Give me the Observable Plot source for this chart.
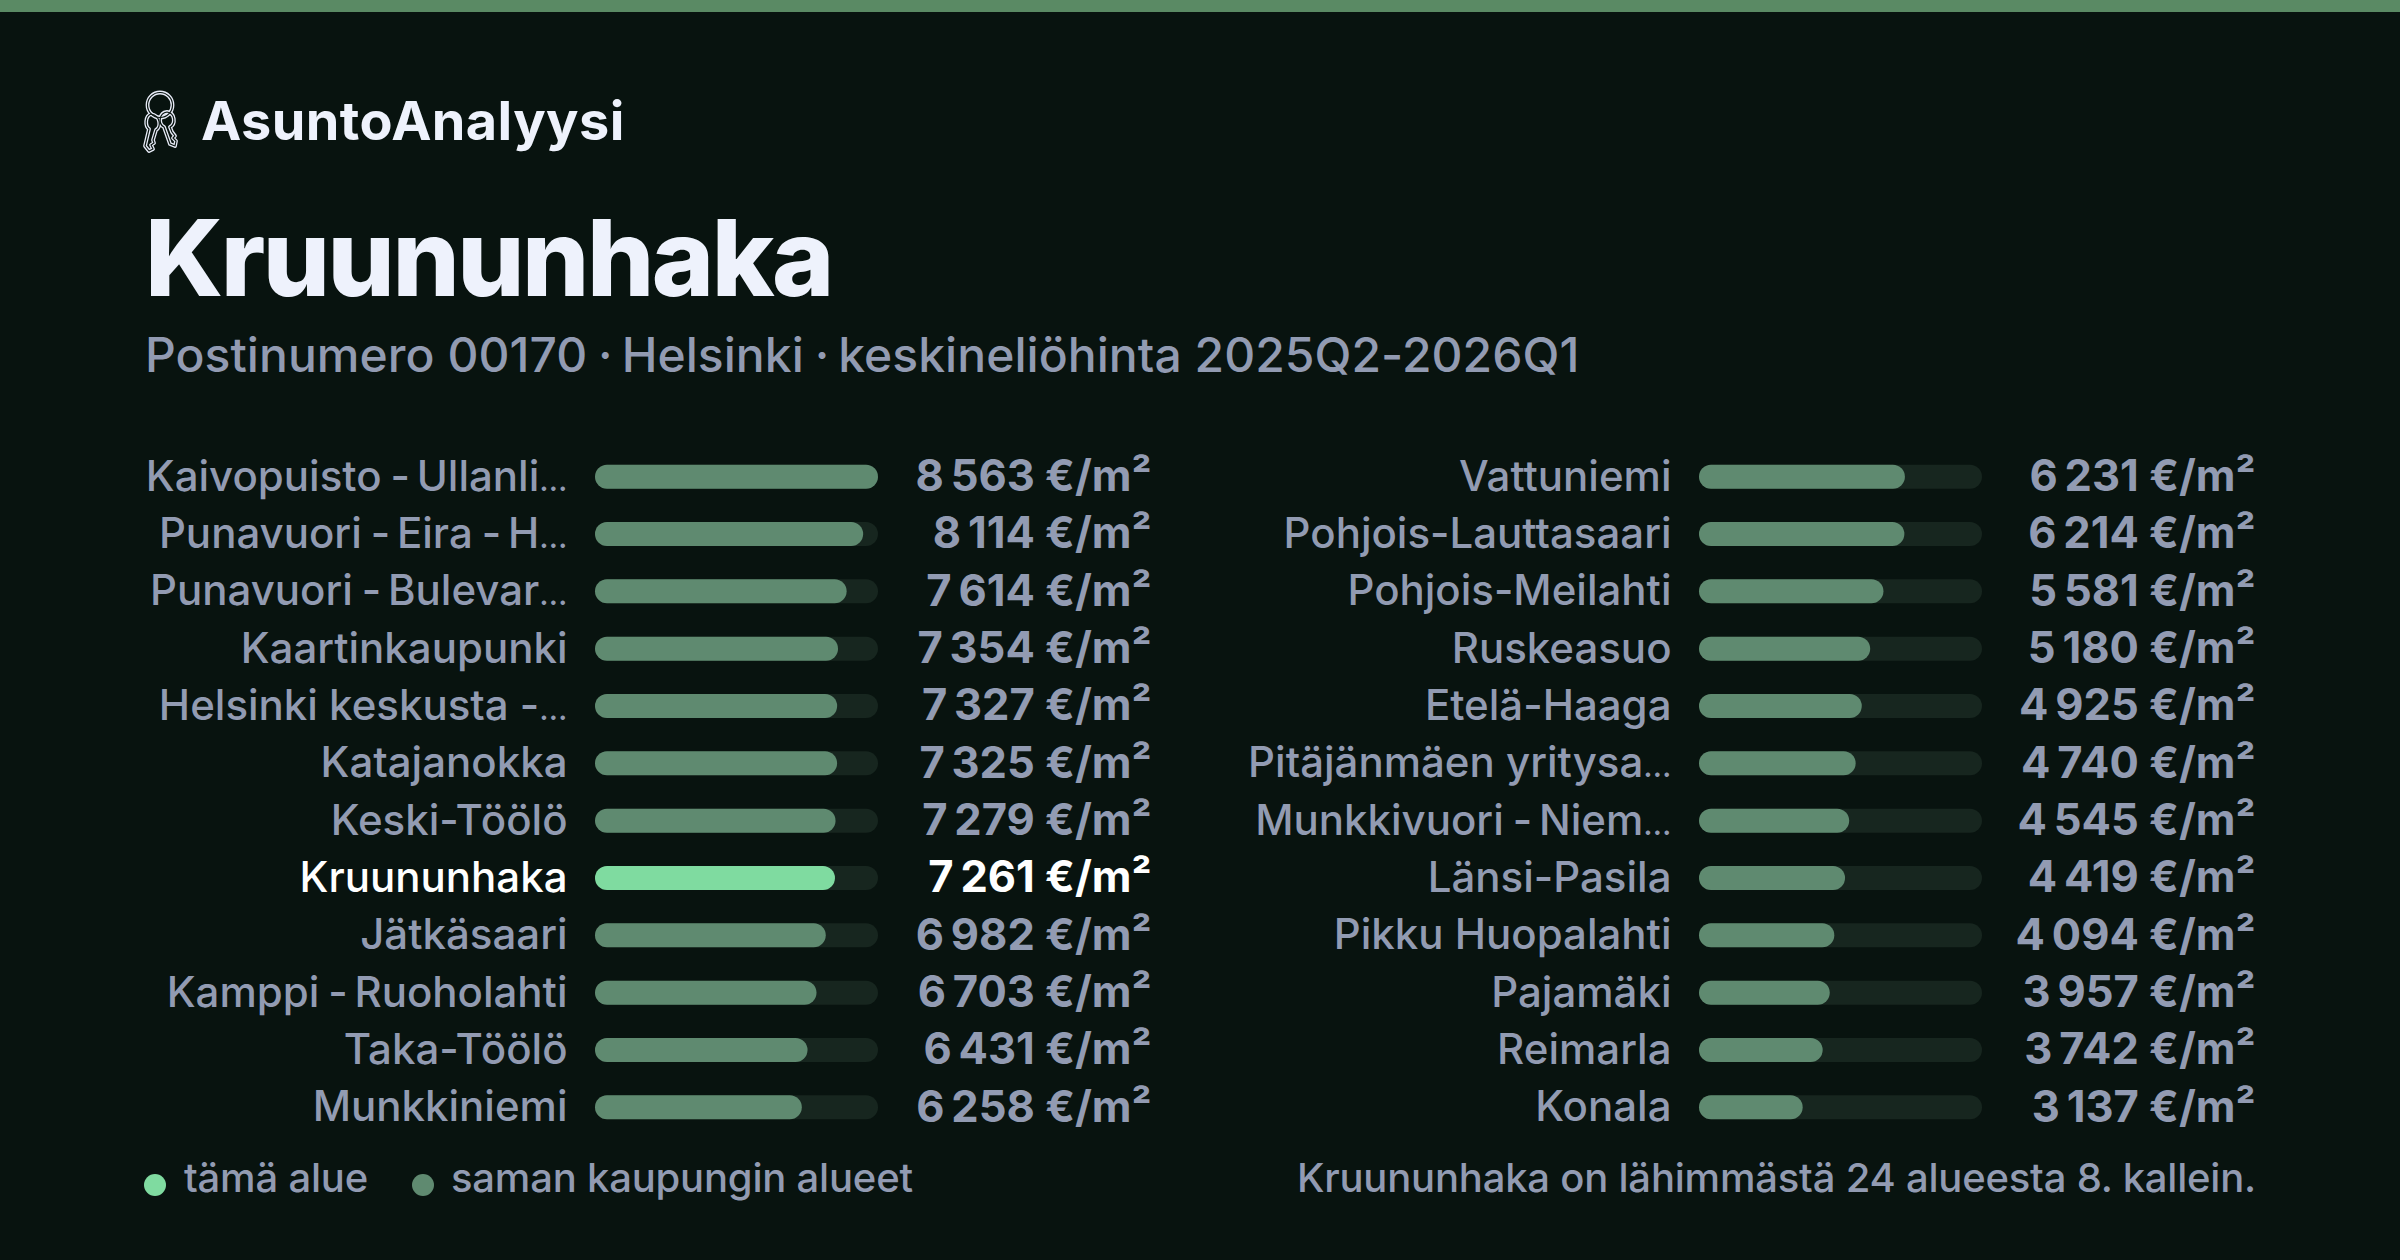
<!DOCTYPE html>
<html lang="fi">
<head>
<meta charset="utf-8">
<script src="https://cdn.jsdelivr.net/npm/d3@7"></script>
<script src="https://cdn.jsdelivr.net/npm/@observablehq/plot@0.6"></script>
<style>
  html, body { margin: 0; padding: 0; background: #08130f; }
  body { width: 2400px; height: 1260px; position: relative; overflow: hidden; font-family: Inter, sans-serif; }
  .abs { position: absolute; white-space: nowrap; line-height: 1; }
  #bar { position: absolute; left: 0; top: 0; width: 2400px; height: 12px; background: #5a8a64; }
  #brand { left: 201px; top: 94px; font-size: 54px; font-weight: 700; color: #eef2fc; letter-spacing: 0.4px; }
  #title { left: 145px; top: 205px; font-size: 106px; font-weight: 800; color: #eef2fc; letter-spacing: -2.5px; }
  #sub { left: 145px; top: 331px; font-size: 48px; font-weight: 450; color: #929bb2; letter-spacing: 0.05px; }
  #sub span { letter-spacing: -1.9px; }
  .legend { font-size: 40px; font-weight: 450; color: #929bb2; top: 1158px; letter-spacing: -0.2px; }
  .dot { position: absolute; width: 22px; height: 22px; border-radius: 50%; top: 1174px; }
  #note { right: 144px; font-size: 40px; font-weight: 450; color: #929bb2; top: 1158px; letter-spacing: -0.21px; }
  .col { position: absolute; top: 448px; }
  .col svg { overflow: visible; background: transparent !important; }
</style>
</head>
<body>
<div id="bar"></div>
<svg class="abs" style="left:120px;top:70px" width="120" height="100" viewBox="0 0 120 100" fill="none" stroke-linecap="round" stroke-linejoin="round">
  <defs>
    <g id="keys">
      <circle cx="40" cy="35" r="12.5"/>
      <path d="M31 44 C25 46 25 56 29 59 L25 76 L29 81 L33 79 L31 75 L34 73 L33 70 L36 60 C41 57 41 46 31 44 Z"/>
      <path d="M47 42 C39 43 38 54 44 57 L50 74 L55 76 L56 71 L53 68 L55 66 L52 62 L50 57 C56 54 55 43 47 42 Z"/>
    </g>
  </defs>
  <use href="#keys" stroke="#e8ecf8" stroke-width="3.8"/>
  <use href="#keys" stroke="#08130f" stroke-width="1.2"/>
</svg>
<div id="brand" class="abs">AsuntoAnalyysi</div>
<div id="title" class="abs">Kruununhaka</div>
<div id="sub" class="abs">Postinumero 00170<span> · </span>Helsinki<span> · </span>keskineliöhinta 2025Q2-2026Q1</div>
<div id="left" class="col" style="left:0"></div>
<div id="right" class="col" style="left:1104px"></div>
<span class="dot" style="left:144px;background:#7fdba0"></span>
<div class="abs legend" style="left:184px">tämä alue</div>
<span class="dot" style="left:412px;background:#5f8a70"></span>
<div class="abs legend" style="left:451px">saman kaupungin alueet</div>
<div id="note" class="abs">Kruununhaka on lähimmästä 24 alueesta 8. kallein.</div>
<script>
const leftNames = ["Kaivopuisto - Ullanli…","Punavuori - Eira - H…","Punavuori - Bulevar…","Kaartinkaupunki","Helsinki keskusta -…","Katajanokka","Keski-Töölö","Kruununhaka","Jätkäsaari","Kamppi - Ruoholahti","Taka-Töölö","Munkkiniemi"];
const leftValues = [8563,8114,7614,7354,7327,7325,7279,7261,6982,6703,6431,6258];
const rightNames = ["Vattuniemi","Pohjois-Lauttasaari","Pohjois-Meilahti","Ruskeasuo","Etelä-Haaga","Pitäjänmäen yritysa…","Munkkivuori - Niem…","Länsi-Pasila","Pikku Huopalahti","Pajamäki","Reimarla","Konala"];
const rightValues = [6231,6214,5581,5180,4925,4740,4545,4419,4094,3957,3742,3137];
const current = "Kruununhaka";
const maxValue = 8563;

const fmt = v => d3.format(",")(v).replace(",", "\u2009") + " €/m²";
const fontFamily = "Inter, sans-serif";

// The reference face has a tighter " - " and a narrower ellipsis than Inter: tune those runs only.
function tuneLabel(node) {
  const parts = node.textContent.split(/( - |…)/).filter(s => s !== "");
  if (parts.length < 2) return;
  node.textContent = "";
  for (const p of parts) {
    if (p === " - " || p === "…") {
      const t = document.createElementNS("http://www.w3.org/2000/svg", "tspan");
      t.textContent = p;
      if (p === "…") t.setAttribute("font-size", "31");
      else t.setAttribute("letter-spacing", "-2.2");
      node.append(t);
    } else node.append(p);
  }
}

function column(names, values) {
  const rows = names.map((name, i) => ({name, value: values[i]}));
  const isCur = d => d.name === current;
  const svg = Plot.plot({
    width: 1200, height: 688,
    margin: 0,
    style: {background: "transparent", fontFamily},
    x: {domain: [0, maxValue], range: [595, 878], axis: null},
    y: {domain: names, padding: 0, round: false, axis: null},
    marks: [
      Plot.barX(rows, {x: () => maxValue, y: "name", fill: "#17261f", rx: 12, insetTop: 16.67, insetBottom: 16.67}),
      Plot.barX(rows, {x: "value", y: "name", fill: d => isCur(d) ? "#7fdba0" : "#5f8a70", rx: 12, insetTop: 16.67, insetBottom: 16.67}),
      Plot.text(rows, {x: () => 0, y: "name", text: "name", textAnchor: "end", dx: -28, fontSize: 42, fontWeight: 450, className: "lbl",
        fill: d => isCur(d) ? "#ffffff" : "#929bb2"}),
      Plot.text(rows, {x: () => maxValue, y: "name", text: d => fmt(d.value), textAnchor: "end", dx: 273, fontSize: 43.5, fontWeight: 700,
        fill: d => isCur(d) ? "#ffffff" : "#929bb2"})
    ]
  });
  svg.querySelectorAll(".lbl text").forEach(tuneLabel);
  return svg;
}
document.getElementById("left").append(column(leftNames, leftValues));
document.getElementById("right").append(column(rightNames, rightValues));
</script>
</body>
</html>
